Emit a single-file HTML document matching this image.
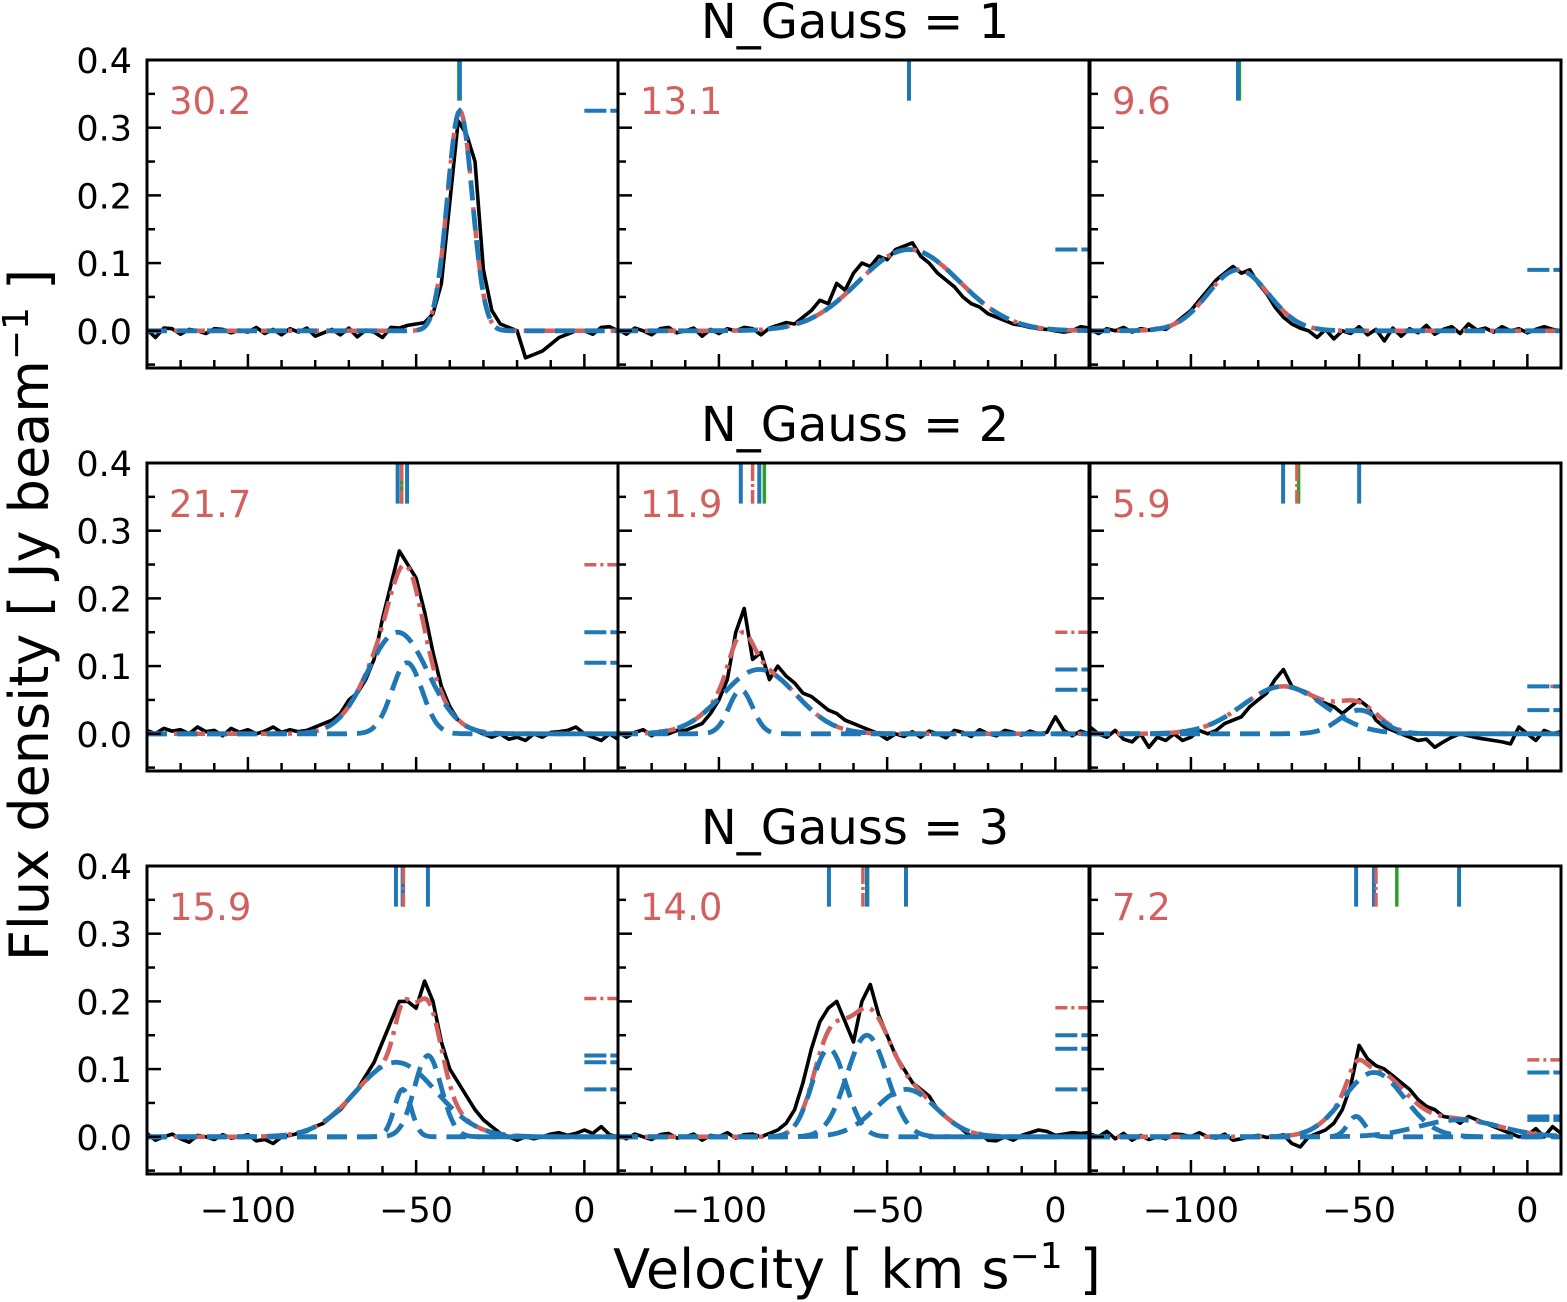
<!DOCTYPE html>
<html><head><meta charset="utf-8">
<style>
body{margin:0;background:#fff;}
svg{display:block;font-family:"DejaVu Sans","Liberation Sans",sans-serif;}
</style></head>
<body>
<svg id="fig" width="1567" height="1302" viewBox="0 0 1567 1302" xmlns="http://www.w3.org/2000/svg">
<text x="855" y="38" font-size="48" text-anchor="middle">N_Gauss = 1</text>
<text x="855" y="441" font-size="48" text-anchor="middle">N_Gauss = 2</text>
<text x="855" y="844" font-size="48" text-anchor="middle">N_Gauss = 3</text>
<text transform="translate(48,615) rotate(-90)" font-size="54" text-anchor="middle">Flux density [ Jy beam<tspan baseline-shift="super" font-size="36">−1</tspan> ]</text>
<text x="857" y="1288" font-size="54" text-anchor="middle">Velocity [ km s<tspan baseline-shift="super" font-size="36">−1</tspan> ]</text>
</svg>
<script>
const velStart = -130, velStep = 2.5;
const panelLabels = ["30.2","13.1","9.6","21.7","11.9","5.9","15.9","14.0","7.2"];
const spec11 = [0.002,-0.01,0.004,0.003,-0.005,0.002,0.0,-0.004,0.003,0.002,-0.003,0.001,-0.002,0.005,-0.004,0.002,-0.006,0.003,-0.002,0.004,-0.008,-0.003,0.002,-0.006,0.004,-0.009,0.001,-0.002,-0.01,0.005,0.004,0.008,
 0.01,0.012,0.025,0.07,0.19,0.31,0.29,0.25,0.09,0.03,0.01,0.005,0.0,-0.04,-0.035,-0.03,-0.02,-0.01,-0.005,0.0,0.0,-0.005,0.005,0.006,0.0];
const spec12 = [0.002,-0.005,0.004,0.0,-0.006,0.003,0.005,-0.003,0.0,0.004,-0.008,0.002,-0.004,0.003,0.0,0.005,
 0.003,-0.006,0.004,0.008,0.012,0.01,0.02,0.03,0.045,0.04,0.07,0.06,0.085,0.1,0.095,0.11,0.105,0.12,0.125,0.13,0.11,0.1,0.085,0.075,0.065,0.05,0.04,0.035,0.025,0.02,0.015,0.01,0.008,0.005,0.003,0.002,0.0,-0.002,0.0,0.006,0.004];
const spec13 = [0.002,-0.004,0.003,0.0,0.005,-0.002,0.003,0.001,
 0.004,0.002,0.01,0.02,0.03,0.045,0.06,0.075,0.085,0.095,0.085,0.09,0.07,0.055,0.035,0.02,0.01,0.004,0.0,
 -0.01,0.002,-0.012,0.0,-0.004,0.006,-0.006,0.002,-0.015,0.004,-0.008,0.003,-0.003,0.008,-0.005,0.002,0.006,-0.004,0.01,0.001,0.004,-0.002,0.006,0.0,0.003,-0.003,0.002,0.006,0.002,0.0];
const spec21 = [0.005,0.0,0.008,0.004,0.006,0.0,0.01,0.003,0.005,-0.003,0.008,0.002,0.006,0.0,0.004,0.01,0.002,0.006,0.003,0.005,
 0.01,0.015,0.02,0.03,0.05,0.06,0.08,0.11,0.17,0.22,0.27,0.25,0.23,0.18,0.12,0.07,0.04,0.02,0.01,0.005,0.0,
 -0.005,0.0,-0.008,-0.005,-0.01,0.0,-0.005,0.002,0.003,0.005,0.01,0.0,-0.005,-0.01,0.0,-0.008];
const spec22 = [0.003,-0.005,0.002,0.006,-0.003,0.004,0.0,0.005,
 0.005,0.01,0.015,0.03,0.05,0.08,0.15,0.185,0.11,0.12,0.08,0.1,0.085,0.075,0.06,0.055,0.045,0.035,0.03,0.02,0.015,0.01,0.005,0.0,-0.008,0.0,-0.004,
 0.003,-0.005,0.004,0.0,-0.006,0.005,0.002,-0.004,0.006,0.0,-0.003,0.005,0.002,-0.002,0.004,0.0,0.002,0.025,0.005,-0.003,0.004,0.0];
const spec23 = [0.01,0.0,-0.005,0.005,-0.008,-0.012,0.0,-0.02,-0.005,-0.01,0.0,-0.01,-0.005,0.005,0.0,
 0.005,0.015,0.02,0.025,0.04,0.05,0.06,0.08,0.095,0.07,0.065,0.06,0.05,0.045,0.04,0.03,0.04,0.05,0.04,0.02,0.01,0.005,0.0,
 -0.005,-0.01,-0.008,-0.02,-0.012,-0.005,0.0,-0.003,-0.006,-0.008,-0.01,-0.012,-0.015,0.01,0.0,-0.01,0.005,0.0,0.003];
const spec31 = [0.005,-0.005,0.0,0.004,-0.003,-0.008,0.002,0.0,-0.004,0.003,-0.002,0.0,0.003,-0.006,-0.004,-0.01,0.0,0.002,
 0.005,0.008,0.015,0.02,0.03,0.04,0.055,0.07,0.09,0.11,0.14,0.17,0.2,0.2,0.19,0.23,0.2,0.14,0.1,0.08,0.06,0.04,0.025,0.015,0.005,0.0,
 -0.005,0.0,-0.003,0.0,0.004,0.006,0.002,0.005,0.01,0.005,0.015,0.003,0.0];
const spec32 = [0.002,-0.003,0.004,0.0,-0.004,0.003,0.005,-0.002,0.0,0.004,-0.005,0.002,0.0,0.006,-0.002,0.003,0.004,0.0,
 0.005,0.01,0.02,0.04,0.08,0.13,0.17,0.19,0.2,0.17,0.14,0.2,0.225,0.18,0.15,0.12,0.1,0.08,0.07,0.06,0.04,0.03,0.02,0.01,0.0,0.005,-0.005,
 -0.006,0.0,-0.005,0.002,0.006,0.01,0.008,0.002,0.004,0.006,0.005,0.006];
const spec33 = [0.004,0.0,0.008,-0.003,0.005,-0.005,0.002,-0.004,0.0,-0.003,0.004,0.003,0.0,0.006,0.0,-0.002,0.004,-0.005,-0.003,0.0,0.002,-0.001,0.0,0.003,-0.01,-0.015,0.0,
 0.005,0.01,0.02,0.04,0.075,0.135,0.115,0.105,0.1,0.09,0.08,0.07,0.055,0.045,0.04,0.03,0.028,0.02,0.03,0.025,0.02,0.015,0.01,0.005,0.0,0.002,0.012,0.0,0.015,0.005];
const spectra = [spec11,spec12,spec13,spec21,spec22,spec23,spec31,spec32,spec33];
const compAmps = [[0.325],[0.12],[0.09],[0.15,0.105],[0.065,0.095],[0.07,0.035],[0.11,0.07,0.12],[0.13,0.15,0.07],[0.03,0.095,0.025]];
const compCenters = [[-37],[-43.5],[-86],[-55.5,-52.7],[-93.5,-88],[-72.6,-50],[-56,-54,-46.5],[-67.3,-56,-44.4],[-50.9,-45.6,-20.3]];
const compSigmas = [[3.7],[15],[9],[9,4.5],[3.5,11],[12,6],[12,2.5,4],[5,6,9],[2.5,9,12]];
const redTicks = [null,null,null,-54.3,-90,-68.5,-53.8,-57.2,-45];
const greenTicks = [-37.3,-43.5,-85.6,-54.3,-86.5,-68,-53.8,-55.8,-38.8];
const yTicks = [0.0,0.1,0.2,0.3,0.4];
const yTickLabels = ["0.0","0.1","0.2","0.3","0.4"];
const xTicks = [-100,-50,0];
const xTickLabels = ["−100","−50","0"];

const NS = "http://www.w3.org/2000/svg";
const svg = document.getElementById('fig');
const colX = [147,618,1090], colW = 471;
const rowTop = [60,463,866], rowH = 308;
const xmin = -130, xmax = 10, ymin = -0.055, ymax = 0.4;
function mk(tag, attrs, parent){const e=document.createElementNS(NS,tag);for(const k in attrs)e.setAttribute(k,attrs[k]);(parent||svg).appendChild(e);return e;}

for(let p=0;p<9;p++){
  const r=Math.floor(p/3), c=p%3;
  const x0=colX[c], y0=rowTop[r];
  const X=v=>x0+(v-xmin)/(xmax-xmin)*colW;
  const Y=f=>y0+(ymax-f)/(ymax-ymin)*rowH;
  const g=mk('g',{});
  
  
  const cp=mk('clipPath',{id:'cp'+p},g);
  mk('rect',{x:x0,y:y0,width:colW,height:rowH},cp);
  const plot=mk('g',{'clip-path':'url(#cp'+p+')'},g);
  const sp=spectra[p];
  let d='';
  sp.forEach((f,i)=>{d+=(i?'L':'M')+X(velStart+i*velStep).toFixed(1)+','+Y(f).toFixed(1);});
  const dl=mk('path',{d:d,fill:'none',stroke:'#000','stroke-width':3.6,'stroke-linejoin':'round'},plot);
  
  
  const A=compAmps[p],C=compCenters[p],S=compSigmas[p];
  const gauss=(k,v)=>A[k]*Math.exp(-((v-C[k])**2)/(2*S[k]*S[k]));
  let dt='';
  for(let v=xmin;v<=xmax;v+=0.5){let s=0;for(let k=0;k<A.length;k++)s+=gauss(k,v);dt+=(v===xmin?'M':'L')+X(v).toFixed(1)+','+Y(s).toFixed(1);}
  const tl=mk('path',{d:dt,fill:'none',stroke:'#d1605e','stroke-width':4.5,'stroke-dasharray':'20 7 4 7'},plot);
  
  
  for(let k=0;k<A.length;k++){
    let dc='';
    for(let v=xmin;v<=xmax;v+=0.5){dc+=(v===xmin?'M':'L')+X(v).toFixed(1)+','+Y(gauss(k,v)).toFixed(1);}
    const cl=mk('path',{d:dc,fill:'none',stroke:'#1f77b4','stroke-width':4.8,'stroke-dasharray':'20 10'},plot);
    
    
  }
  const tTop=Y(0.4), tBot=Y(0.34);
  const gt=mk('line',{x1:X(greenTicks[p]),x2:X(greenTicks[p]),y1:tTop,y2:tBot,stroke:'#2ca02c','stroke-width':3.5},g);
  
  
  for(let k=0;k<A.length;k++){
    const bt=mk('line',{x1:X(C[k]),x2:X(C[k]),y1:tTop,y2:tBot,stroke:'#1f77b4','stroke-width':4},g);
    
    
  }
  if(redTicks[p]!==null){
    const rt=mk('line',{x1:X(redTicks[p]),x2:X(redTicks[p]),y1:tTop,y2:tBot,stroke:'#d1605e','stroke-width':3.5,'stroke-dasharray':'18 3 3 3'},g);
    
    
  }
  if(A.length>1){
    let peak=0;for(let v=xmin;v<=xmax;v+=0.5){let s=0;for(let k=0;k<A.length;k++)s+=gauss(k,v);peak=Math.max(peak,s);}
    const rm=mk('line',{x1:X(0),x2:X(10),y1:Y(peak),y2:Y(peak),stroke:'#d1605e','stroke-width':3.5,'stroke-dasharray':'12 4 3 4'},g);
    
    
  }
  for(let k=0;k<A.length;k++){
    const bm=mk('line',{x1:X(0),x2:X(10),y1:Y(A[k]),y2:Y(A[k]),stroke:'#1f77b4','stroke-width':4,'stroke-dasharray':'22 4'},g);
    
    
  }
  for(let f=0;f<=0.4001;f+=0.05){
    const major=Math.abs(f*10-Math.round(f*10))<1e-6;
    mk('line',{x1:x0,x2:x0+(major?14:8),y1:Y(f),y2:Y(f),stroke:'#000','stroke-width':2.5},g);
  }
  mk('line',{x1:x0,x2:x0+8,y1:Y(-0.05),y2:Y(-0.05),stroke:'#000','stroke-width':2.5},g);
  for(let v=-120;v<=10;v+=10){
    const major=v%50===0;
    mk('line',{x1:X(v),x2:X(v),y1:y0+rowH,y2:y0+rowH-(major?14:8),stroke:'#000','stroke-width':2.5},g);
  }
  const fr=mk('rect',{x:x0,y:y0,width:colW,height:rowH,fill:'none',stroke:'#000','stroke-width':3},g);
  
  
  const lb=mk('text',{x:x0+22,y:y0+54,'font-size':37,fill:'#d1605e'},g);
  lb.textContent=panelLabels[p];
  
  
  if(c===0){
    yTicks.forEach((f,i)=>{
      const t=mk('text',{x:x0-15,y:Y(f)+13,'font-size':35,'text-anchor':'end'},g);
      t.textContent=yTickLabels[i];
      
      
    });
  }
  if(r===2){
    xTicks.forEach((v,i)=>{
      const t=mk('text',{x:X(v),y:y0+rowH+48,'font-size':35,'text-anchor':'middle'},g);
      t.textContent=xTickLabels[i];
      
      
    });
  }
}
</script>
</body></html>
